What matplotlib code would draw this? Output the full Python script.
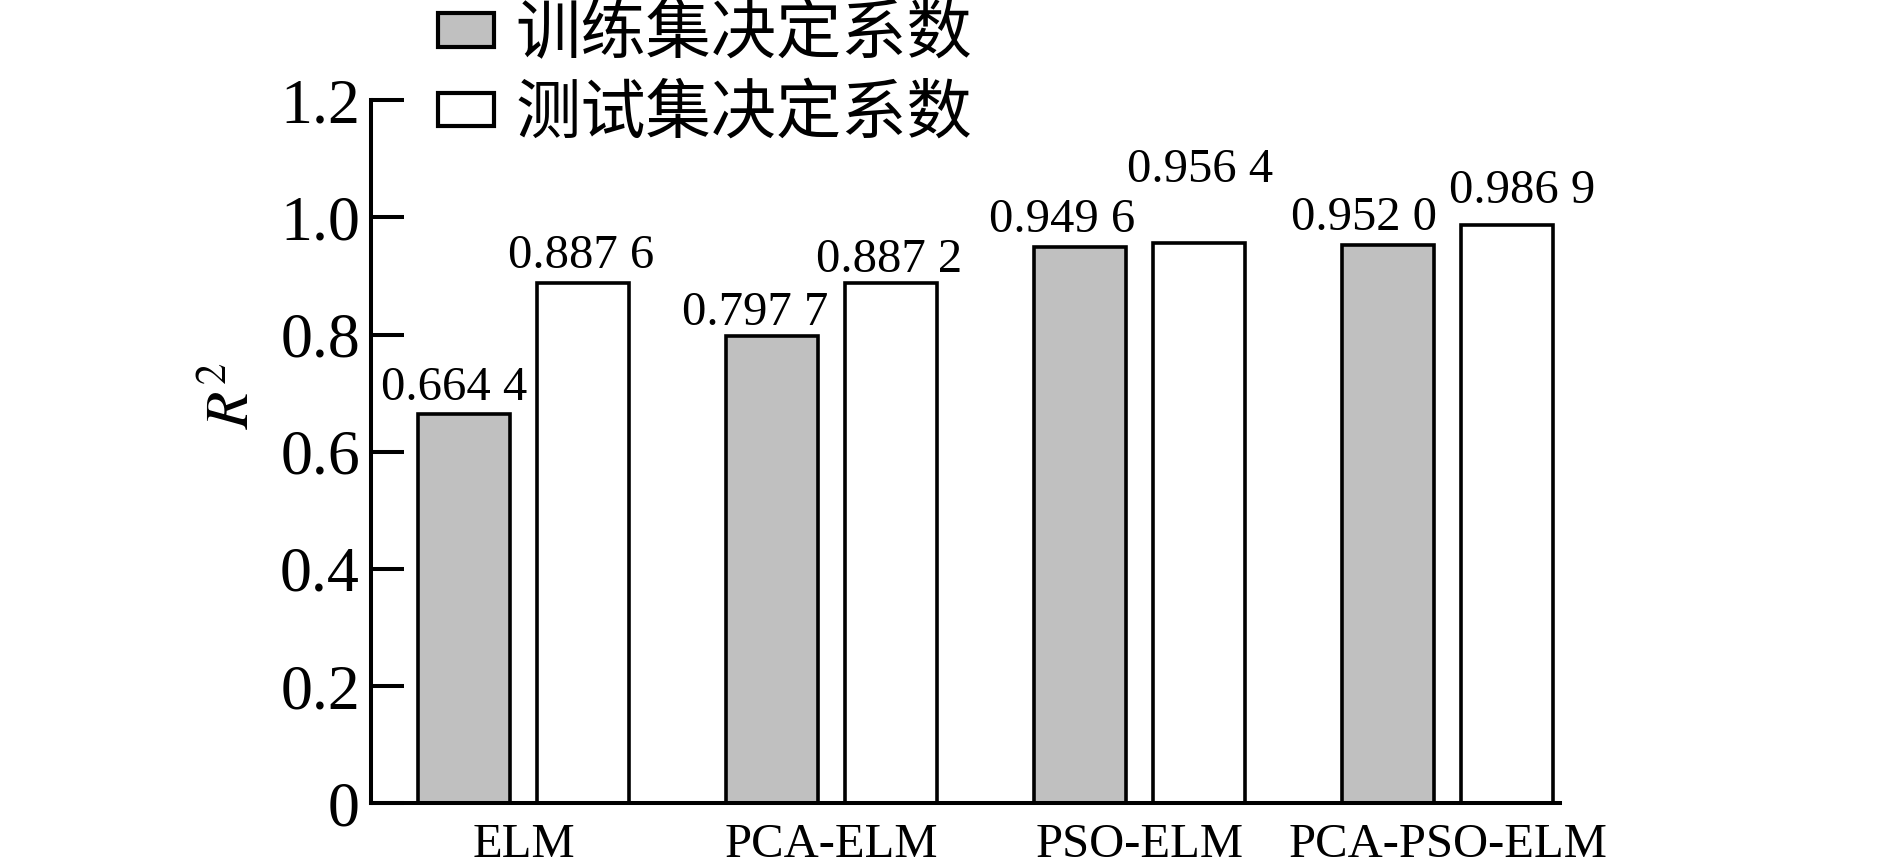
import matplotlib
matplotlib.use("Agg")
import matplotlib.pyplot as plt
from matplotlib.patches import Patch
import numpy as np

categories = ["ELM", "PCA-ELM", "PSO-ELM", "PCA-PSO-ELM"]
train_r2 = [0.6644, 0.7977, 0.9496, 0.9520]
test_r2 = [0.8876, 0.8872, 0.9564, 0.9869]
train_labels = ["0.664 4", "0.797 7", "0.949 6", "0.952 0"]
test_labels = ["0.887 6", "0.887 2", "0.956 4", "0.986 9"]
series_names = ["训练集决定系数", "测试集决定系数"]
yticks = [0, 0.2, 0.4, 0.6, 0.8, 1.0, 1.2]
yticklabels = ["0", "0.2", "0.4", "0.6", "0.8", "1.0", "1.2"]

# label placement offsets (points) as in the original figure
train_offsets = [(-7, 10), (-12, 8), (-13, 11), (-17, 11)]
test_offsets = [(-1, 11), (-1, 8), (1, 44), (11, 16)]

plt.rcParams['font.family'] = ['Liberation Serif', 'Noto Sans CJK SC']
plt.rcParams['mathtext.fontset'] = 'stix'

fig = plt.figure(figsize=(18.89, 8.66), dpi=100)
ax = fig.add_axes([0.1964, 0.0722, 0.8258 - 0.1964, 0.8845 - 0.0722])

x = np.arange(len(categories))
w = 0.30
off = 0.193
b1 = ax.bar(x - off, train_r2, width=w, color='#c0c0c0', edgecolor='black', linewidth=2.6)
b2 = ax.bar(x + off, test_r2, width=w, color='white', edgecolor='black', linewidth=2.6)

for bars, labs, offs in ((b1, train_labels, train_offsets), (b2, test_labels, test_offsets)):
    for rect, lab, (dx, dy) in zip(bars, labs, offs):
        ax.annotate(lab, (rect.get_x() + rect.get_width() / 2, rect.get_height()),
                    xytext=(dx, dy), textcoords='offset points', ha='center', va='baseline',
                    fontsize=35)

ax.set_xlim(-0.495, 3.365)
ax.set_ylim(0, 1.2)
ax.set_yticks(yticks)
ax.set_yticklabels(yticklabels)
ax.set_xticks(x)
ax.set_xticklabels(categories)
ax.tick_params(axis='y', direction='in', length=24, width=2.9, labelsize=46, pad=8)
ax.tick_params(axis='x', length=0, labelsize=35, pad=14)
for s in ['top', 'right']:
    ax.spines[s].set_visible(False)
for s in ['left', 'bottom']:
    ax.spines[s].set_linewidth(2.9)

ax.set_ylabel(r'$R^2$', fontsize=44)
ax.yaxis.set_label_coords(-0.092, 0.58)

handles = [Patch(facecolor='#c0c0c0', edgecolor='black', linewidth=3),
           Patch(facecolor='white', edgecolor='black', linewidth=3)]
leg = fig.legend(handles, series_names, loc='upper left', bbox_to_anchor=(0.232, 0.998),
                 frameon=False, prop={'family': 'Noto Sans CJK SC', 'size': 47},
                 handlelength=0.85, handleheight=0.42, handletextpad=0.33,
                 labelspacing=0.2, borderpad=0, borderaxespad=0)

fig.savefig('out.png', dpi=100)
